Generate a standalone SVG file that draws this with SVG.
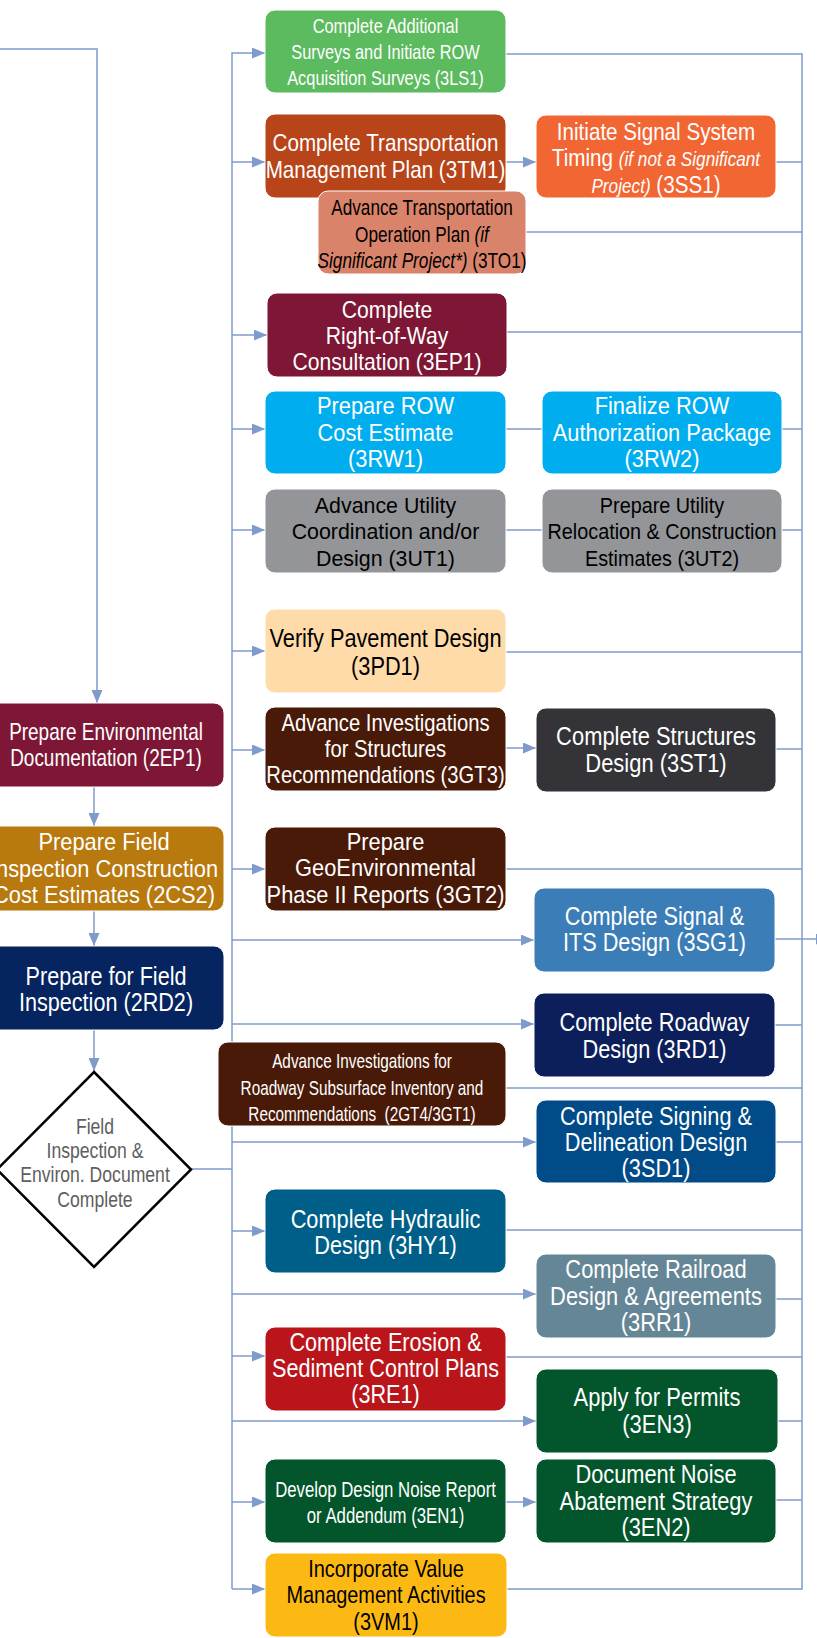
<svg xmlns="http://www.w3.org/2000/svg" width="817" height="1638" viewBox="0 0 817 1638">
<style>
text{font-family:"Liberation Sans",Arial,sans-serif;text-anchor:middle;}
.w{fill:#ffffff;}
.k{fill:#000000;}
.box{stroke:#ffffff;stroke-width:1;}
.it{font-style:italic;}
</style>
<defs>
<marker id="ah" markerUnits="userSpaceOnUse" markerWidth="13" markerHeight="11" refX="13" refY="5.5" orient="auto"><path d="M0,0 L13,5.5 L0,11 z" fill="#7F9BCB"/></marker>
</defs>
<rect x="0" y="0" width="817" height="1638" fill="#ffffff"/>
<g id="connectors" fill="none" stroke="#7F9BCB" stroke-width="1.5">
<path d="M0,49 H97 V703" marker-end="url(#ah)"/>
<path d="M94,786 V826" marker-end="url(#ah)"/>
<path d="M94,911 V946" marker-end="url(#ah)"/>
<path d="M94,1030 V1071" marker-end="url(#ah)"/>
<path d="M191,1169 H232"/>
<path d="M232,1589 V53 H265" marker-end="url(#ah)"/>
<path d="M232,1589 H265" marker-end="url(#ah)"/>
<path d="M232,162 H265" marker-end="url(#ah)"/>
<path d="M232,335 H267" marker-end="url(#ah)"/>
<path d="M232,429 H265" marker-end="url(#ah)"/>
<path d="M232,530 H265" marker-end="url(#ah)"/>
<path d="M232,651 H265" marker-end="url(#ah)"/>
<path d="M232,750 H265" marker-end="url(#ah)"/>
<path d="M232,869 H265" marker-end="url(#ah)"/>
<path d="M232,940 H534" marker-end="url(#ah)"/>
<path d="M232,1024 H534" marker-end="url(#ah)"/>
<path d="M232,1142 H536" marker-end="url(#ah)"/>
<path d="M232,1231 H265" marker-end="url(#ah)"/>
<path d="M232,1294 H536" marker-end="url(#ah)"/>
<path d="M232,1356 H265" marker-end="url(#ah)"/>
<path d="M232,1421 H536" marker-end="url(#ah)"/>
<path d="M232,1502 H265" marker-end="url(#ah)"/>
<path d="M506,162 H536" marker-end="url(#ah)"/>
<path d="M506,429 H542"/>
<path d="M506,530 H542"/>
<path d="M506,748 H536" marker-end="url(#ah)"/>
<path d="M506,1502 H536" marker-end="url(#ah)"/>
<path d="M506,54 H802 V1589 H507"/>
<path d="M776,162 H802"/>
<path d="M526,232 H802"/>
<path d="M507,332 H802"/>
<path d="M782,429 H802"/>
<path d="M782,530 H802"/>
<path d="M506,652 H802"/>
<path d="M776,749 H802"/>
<path d="M506,869 H802"/>
<path d="M775,939 H829" marker-end="url(#ah)"/>
<path d="M775,1025 H802"/>
<path d="M506,1088 H802"/>
<path d="M776,1142 H802"/>
<path d="M506,1230 H802"/>
<path d="M776,1299 H802"/>
<path d="M506,1357 H802"/>
<path d="M778,1421 H802"/>
<path d="M776,1500 H802"/>
</g>

<g id="n2EP1">
<rect class="box" x="-12" y="703" width="236" height="84" rx="10" fill="#7E1735"/>
<g transform="translate(106 0) scale(0.79 1)" class="w" font-size="24">
<text x="0" y="740">Prepare Environmental</text>
<text x="0" y="766.5">Documentation (2EP1)</text>
</g>
</g>
<g id="n2CS2">
<rect class="box" x="-16" y="826" width="240" height="85" rx="10" fill="#B8790F"/>
<g transform="translate(104 0) scale(0.91 1)" class="w" font-size="24">
<text x="0" y="850.5">Prepare Field</text>
<text x="0" y="877">Inspection Construction</text>
<text x="0" y="903.5">Cost Estimates (2CS2)</text>
</g>
</g>
<g id="n2RD2">
<rect class="box" x="-12" y="946" width="236" height="84" rx="10" fill="#06245F"/>
<g transform="translate(106 0) scale(0.865 1)" class="w" font-size="25">
<text x="0" y="985">Prepare for Field</text>
<text x="0" y="1011">Inspection (2RD2)</text>
</g>
</g>
<g id="decision">
<polygon points="94,1072 191,1169.5 94,1267 -3,1169.5" fill="#ffffff" stroke="#000000" stroke-width="2.5"/>
<g transform="translate(95 0) scale(0.8 1)" fill="#5E5E5E" font-size="22">
<text x="0" y="1134">Field</text>
<text x="0" y="1158">Inspection &amp;</text>
<text x="0" y="1182">Environ. Document</text>
<text x="0" y="1207">Complete</text>
</g>
</g>

<g id="n3LS1">
<rect class="box" x="265" y="10" width="241" height="83" rx="10" fill="#5CBB5F"/>
<g transform="translate(385.5 0) scale(0.82 1)" class="w" font-size="20">
<text x="0" y="33.5">Complete Additional</text>
<text x="0" y="59.5">Surveys and Initiate ROW</text>
<text x="0" y="85.5">Acquisition Surveys (3LS1)</text>
</g>
</g>
<g id="n3TM1">
<rect class="box" x="265" y="114" width="241" height="84" rx="10" fill="#B8441A"/>
<g transform="translate(385.5 0) scale(0.86 1)" class="w" font-size="24">
<text x="0" y="151">Complete Transportation</text>
<text x="0" y="178">Management Plan (3TM1)</text>
</g>
</g>
<g id="n3SS1">
<rect class="box" x="536" y="115" width="240" height="83" rx="10" fill="#F26633"/>
<g transform="translate(656 0) scale(0.86 1)" class="w" font-size="24">
<text x="0" y="140">Initiate Signal System</text>
<text x="0" y="166.5">Timing <tspan class="it" font-size="20">(if not a Significant</tspan></text>
<text x="0" y="193"><tspan class="it" font-size="20">Project)</tspan> (3SS1)</text>
</g>
</g>
<g id="n3TO1">
<rect class="box" x="318" y="191" width="208" height="83" rx="10" fill="#D9836B"/>
<g transform="translate(422 0) scale(0.8 1)" class="k" font-size="21.5">
<text x="0" y="215.5">Advance Transportation</text>
<text x="0" y="242">Operation Plan <tspan class="it">(if</tspan></text>
<text x="0" y="268.5"><tspan class="it">Significant Project*)</tspan> (3TO1)</text>
</g>
</g>
<g id="n3EP1">
<rect class="box" x="267" y="293" width="240" height="84" rx="10" fill="#7E1735"/>
<g transform="translate(387 0) scale(0.92 1)" class="w" font-size="23">
<text x="0" y="318">Complete</text>
<text x="0" y="344">Right-of-Way</text>
<text x="0" y="370">Consultation (3EP1)</text>
</g>
</g>
<g id="n3RW1">
<rect class="box" x="265" y="391" width="241" height="83" rx="10" fill="#00AEEF"/>
<g transform="translate(385.5 0) scale(0.91 1)" class="w" font-size="24">
<text x="0" y="414.5">Prepare ROW</text>
<text x="0" y="441">Cost Estimate</text>
<text x="0" y="467">(3RW1)</text>
</g>
</g>
<g id="n3RW2">
<rect class="box" x="542" y="391" width="240" height="83" rx="10" fill="#00AEEF"/>
<g transform="translate(662 0) scale(0.91 1)" class="w" font-size="24">
<text x="0" y="414.5">Finalize ROW</text>
<text x="0" y="441">Authorization Package</text>
<text x="0" y="467">(3RW2)</text>
</g>
</g>
<g id="n3UT1">
<rect class="box" x="265" y="489" width="241" height="84" rx="10" fill="#939598"/>
<g transform="translate(385.5 0) scale(0.93 1)" class="k" font-size="23">
<text x="0" y="513">Advance Utility</text>
<text x="0" y="539.5">Coordination and/or</text>
<text x="0" y="566">Design (3UT1)</text>
</g>
</g>
<g id="n3UT2">
<rect class="box" x="542" y="489" width="240" height="84" rx="10" fill="#939598"/>
<g transform="translate(662 0) scale(0.88 1)" class="k" font-size="22.5">
<text x="0" y="513">Prepare Utility</text>
<text x="0" y="539.5">Relocation &amp; Construction</text>
<text x="0" y="566">Estimates (3UT2)</text>
</g>
</g>
<g id="n3PD1">
<rect class="box" x="265" y="609" width="241" height="84" rx="10" fill="#FFDBAA"/>
<g transform="translate(385.5 0) scale(0.87 1)" class="k" font-size="25">
<text x="0" y="647.5">Verify Pavement Design</text>
<text x="0" y="675">(3PD1)</text>
</g>
</g>
<g id="n3GT3">
<rect class="box" x="265" y="707" width="241" height="84" rx="10" fill="#4A1A08"/>
<g transform="translate(385.5 0) scale(0.88 1)" class="w" font-size="23">
<text x="0" y="731">Advance Investigations</text>
<text x="0" y="757.5">for Structures</text>
<text x="0" y="783.5">Recommendations (3GT3)</text>
</g>
</g>
<g id="n3ST1">
<rect class="box" x="536" y="708" width="240" height="84" rx="10" fill="#333338"/>
<g transform="translate(656 0) scale(0.86 1)" class="w" font-size="25.5">
<text x="0" y="745">Complete Structures</text>
<text x="0" y="772.5">Design (3ST1)</text>
</g>
</g>
<g id="n3GT2">
<rect class="box" x="265" y="827" width="241" height="84" rx="10" fill="#4A1A08"/>
<g transform="translate(385.5 0) scale(0.91 1)" class="w" font-size="24">
<text x="0" y="850">Prepare</text>
<text x="0" y="876.5">GeoEnvironmental</text>
<text x="0" y="903">Phase II Reports (3GT2)</text>
</g>
</g>
<g id="n3SG1">
<rect class="box" x="534" y="888" width="241" height="84" rx="10" fill="#3B7DB6"/>
<g transform="translate(654.5 0) scale(0.85 1)" class="w" font-size="25.5">
<text x="0" y="925">Complete Signal &amp;</text>
<text x="0" y="951.5">ITS Design (3SG1)</text>
</g>
</g>
<g id="n3RD1">
<rect class="box" x="534" y="993" width="241" height="84" rx="10" fill="#0C1F5B"/>
<g transform="translate(654.5 0) scale(0.854 1)" class="w" font-size="25.5">
<text x="0" y="1031">Complete Roadway</text>
<text x="0" y="1058">Design (3RD1)</text>
</g>
</g>
<g id="n2GT4_3GT1">
<rect class="box" x="218" y="1042" width="288" height="84" rx="10" fill="#4A1A08"/>
<g transform="translate(362 0) scale(0.73 1)" class="w" font-size="21">
<text x="0" y="1068.5">Advance Investigations for</text>
<text x="0" y="1095">Roadway Subsurface Inventory and</text>
<text x="0" y="1121.5" xml:space="preserve">Recommendations  (2GT4/3GT1)</text>
</g>
</g>
<g id="n3SD1">
<rect class="box" x="536" y="1100" width="240" height="83" rx="10" fill="#004B88"/>
<g transform="translate(656 0) scale(0.87 1)" class="w" font-size="25">
<text x="0" y="1125">Complete Signing &amp;</text>
<text x="0" y="1151">Delineation Design</text>
<text x="0" y="1177">(3SD1)</text>
</g>
</g>
<g id="n3HY1">
<rect class="box" x="265" y="1189" width="241" height="84" rx="10" fill="#005F88"/>
<g transform="translate(385.5 0) scale(0.87 1)" class="w" font-size="25">
<text x="0" y="1228">Complete Hydraulic</text>
<text x="0" y="1254.5">Design (3HY1)</text>
</g>
</g>
<g id="n3RR1">
<rect class="box" x="536" y="1254" width="240" height="84" rx="10" fill="#648696"/>
<g transform="translate(656 0) scale(0.876 1)" class="w" font-size="25">
<text x="0" y="1278.5">Complete Railroad</text>
<text x="0" y="1305">Design &amp; Agreements</text>
<text x="0" y="1331.5">(3RR1)</text>
</g>
</g>
<g id="n3RE1">
<rect class="box" x="265" y="1327" width="241" height="84" rx="10" fill="#BA151B"/>
<g transform="translate(385.5 0) scale(0.865 1)" class="w" font-size="25">
<text x="0" y="1351.5">Complete Erosion &amp;</text>
<text x="0" y="1377.5">Sediment Control Plans</text>
<text x="0" y="1403.5">(3RE1)</text>
</g>
</g>
<g id="n3EN3">
<rect class="box" x="536" y="1369" width="242" height="84" rx="10" fill="#03552B"/>
<g transform="translate(657 0) scale(0.877 1)" class="w" font-size="25">
<text x="0" y="1406">Apply for Permits</text>
<text x="0" y="1433">(3EN3)</text>
</g>
</g>
<g id="n3EN1">
<rect class="box" x="265" y="1459" width="241" height="84" rx="10" fill="#03552B"/>
<g transform="translate(385.5 0) scale(0.78 1)" class="w" font-size="21.5">
<text x="0" y="1497.5">Develop Design Noise Report</text>
<text x="0" y="1523.5">or Addendum (3EN1)</text>
</g>
</g>
<g id="n3EN2">
<rect class="box" x="536" y="1459" width="240" height="84" rx="10" fill="#03552B"/>
<g transform="translate(656 0) scale(0.873 1)" class="w" font-size="25">
<text x="0" y="1483.5">Document Noise</text>
<text x="0" y="1510">Abatement Strategy</text>
<text x="0" y="1536.5">(3EN2)</text>
</g>
</g>
<g id="n3VM1">
<rect class="box" x="265" y="1553" width="242" height="84" rx="10" fill="#FDB913"/>
<g transform="translate(386 0) scale(0.83 1)" class="k" font-size="24">
<text x="0" y="1577">Incorporate Value</text>
<text x="0" y="1603.5">Management Activities</text>
<text x="0" y="1630">(3VM1)</text>
</g>
</g>
</svg>
